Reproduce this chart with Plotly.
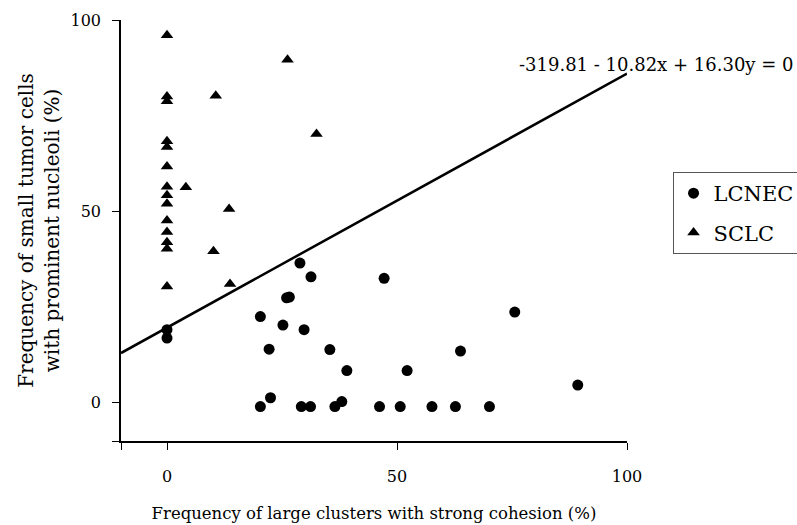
import plotly.graph_objects as go

# LCNEC (circles)
lcnec_x = [0, 0, 28.9, 31.3, 26.0, 26.6, 20.3, 25.2, 29.8, 22.2, 35.4, 39.1, 52.2, 47.2,
           75.6, 63.8, 89.3, 22.5, 38.0,
           20.3, 29.2, 31.2, 36.5, 46.2, 50.7, 57.6, 62.7, 70.1]
lcnec_y = [19.1, 16.9, 36.5, 32.9, 27.4, 27.6, 22.5, 20.3, 19.1, 14.0, 13.9, 8.4, 8.4, 32.5,
           23.7, 13.5, 4.6, 1.3, 0.3,
           -1, -1, -1, -1, -1, -1, -1, -1, -1]

# SCLC (triangles)
sclc_x = [0] * 14 + [4.1, 10.6, 26.2, 32.5, 13.5, 10.1, 13.7]
sclc_y = [96.0, 80.0, 78.8, 68.3, 66.8, 61.7, 56.4, 54.2, 52.0, 47.6, 44.6, 41.9, 40.2, 30.4,
          56.3, 80.2, 89.6, 70.2, 50.6, 39.6, 31.0]

# discriminant function: c0 + cx*x + cy*y = 0
c0, cx, cy = -319.81, -10.82, 16.30
line_x = [-10, 100]
line_y = [-(c0 + cx * v) / cy for v in line_x]

x_ticks = [-10, 0, 50, 100]
x_ticktext = ["", "0", "50", "100"]
y_ticks = [-10, 0, 50, 100]
y_ticktext = ["", "0", "50", "100"]

FONT = "DejaVu Serif"

fig = go.Figure()
fig.add_trace(go.Scatter(x=line_x, y=line_y, mode="lines",
                         line=dict(color="black", width=2.5), showlegend=False,
                         hoverinfo="skip"))
fig.add_trace(go.Scatter(x=lcnec_x, y=lcnec_y, mode="markers", name="LCNEC",
                         legendgroup="a",
                         marker=dict(symbol="circle", size=11, color="black")))
fig.add_trace(go.Scatter(x=sclc_x, y=sclc_y, mode="markers", name="SCLC",
                         legendgroup="b",
                         marker=dict(symbol="triangle-up", size=11, color="black")))

fig.add_annotation(x=1.0, y=0.895, xref="paper", yref="paper",
                   xanchor="left", yanchor="middle", showarrow=False,
                   text="-319.81 - 10.82x + 16.30y = 0",
                   font=dict(family=FONT, size=18, color="black"),
                   xshift=-110)

fig.update_layout(
    width=797, height=525,
    margin=dict(l=121, r=170, t=20, b=84, autoexpand=False),
    plot_bgcolor="white", paper_bgcolor="white",
    font=dict(family=FONT, color="black", size=16),
    legend=dict(x=1.09, y=0.639, xanchor="left", yanchor="top",
                bordercolor="#555555", borderwidth=1, bgcolor="white",
                font=dict(family=FONT, size=21, color="black"),
                tracegroupgap=9),
    xaxis=dict(range=[-10, 100], showgrid=False, zeroline=False,
               showline=True, linecolor="black", linewidth=1.5,
               ticks="outside", ticklen=7, tickcolor="black",
               tickvals=x_ticks, ticktext=x_ticktext,
               tickfont=dict(family=FONT, size=16),
               ticklabelstandoff=13,
               title=dict(text="Frequency of large clusters with strong cohesion (%)",
                          font=dict(family=FONT, size=16.5), standoff=22)),
    yaxis=dict(range=[-10, 100], showgrid=False, zeroline=False,
               showline=True, linecolor="black", linewidth=1.5,
               ticks="outside", ticklen=7, tickcolor="black",
               tickvals=y_ticks, ticktext=y_ticktext,
               tickfont=dict(family=FONT, size=16),
               ticklabelstandoff=8,
               title=dict(text="Frequency of small tumor cells<br>with prominent nucleoli (%)",
                          font=dict(family=FONT, size=20), standoff=6)),
)

fig.write_html("out.html")
